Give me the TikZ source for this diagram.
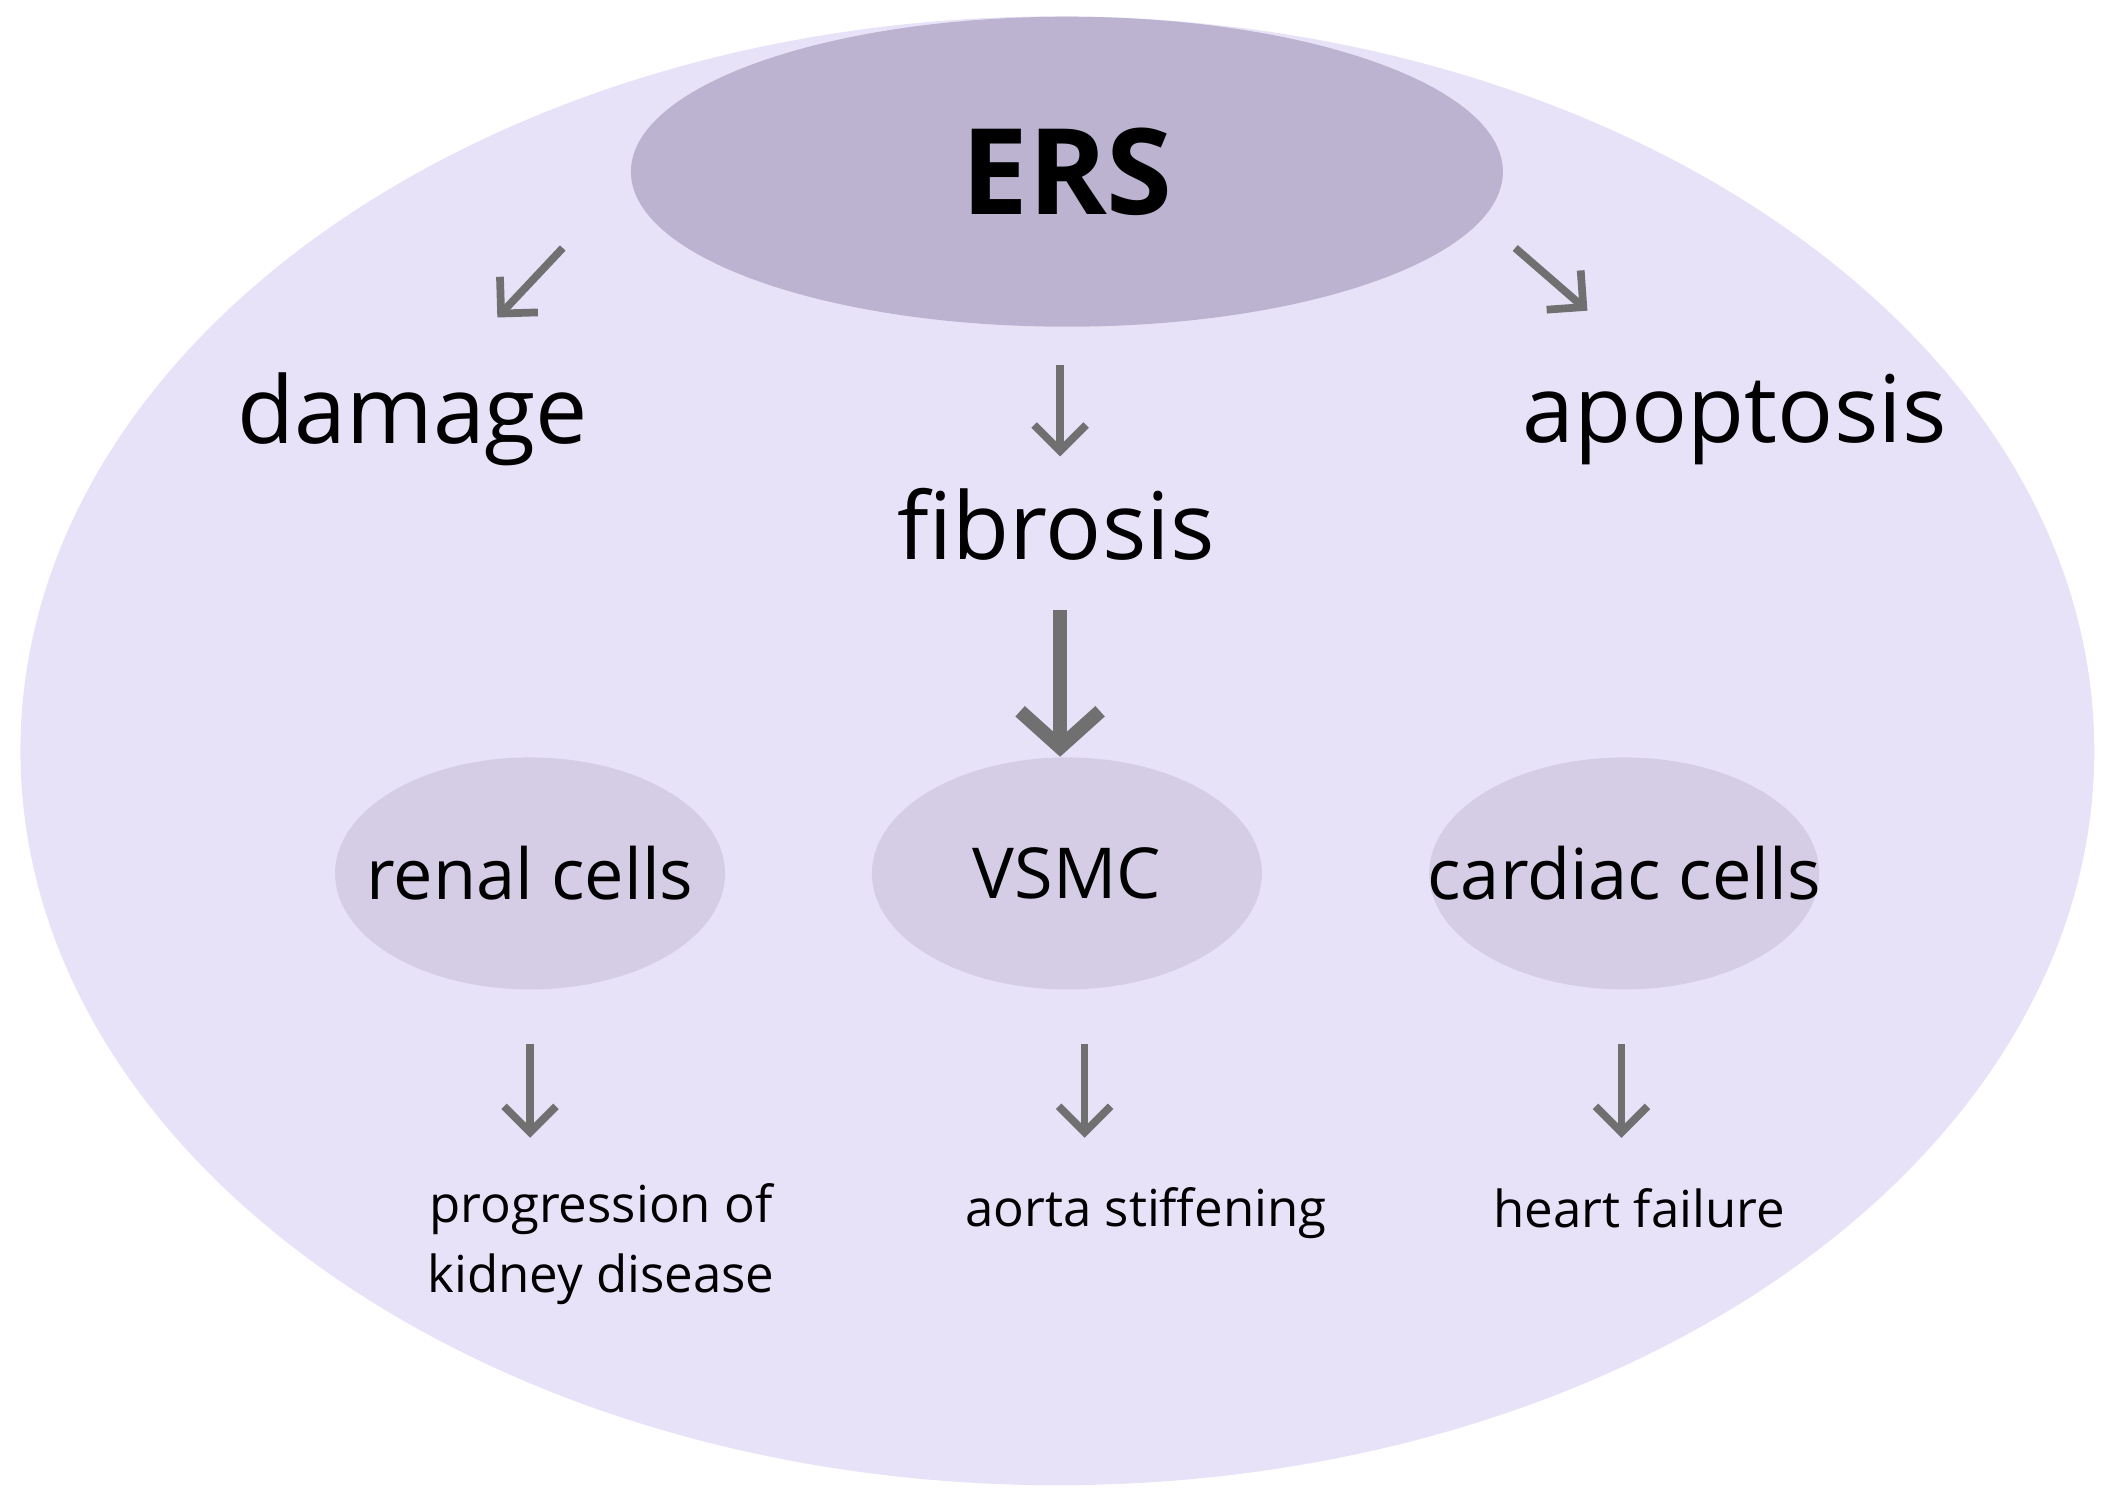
\documentclass[tikz,border=0pt]{standalone}
\usepackage{fontspec}
\setmainfont{Open Sans}
\usetikzlibrary{shapes.geometric, arrows.meta}
\definecolor{outerfill}{HTML}{E8E2F8}
\definecolor{ersfill}{HTML}{BBB3CF}
\definecolor{cellfill}{HTML}{D5CCE6}
\definecolor{arrowgray}{HTML}{707070}
\tikzset{
  cell/.style={ellipse, fill=cellfill, minimum width=3.9cm, minimum height=2.32cm},
  celltext/.style={font=\fontsize{20}{24}\selectfont},
  effect/.style={font=\fontsize{26.5}{31}\selectfont},
  outcome/.style={align=center, font=\fontsize{14.5}{20}\selectfont},
  arr/.style={draw=arrowgray, line width=2.2pt, -{Straight Barb[length=2.6mm, width=5.2mm]}},
  bigarr/.style={draw=arrowgray, line width=4pt, -{Straight Barb[length=3.6mm, width=8mm]}}
}
\begin{document}
\begin{tikzpicture}[x=0.01363cm, y=-0.01363cm]

\useasboundingbox (0,0) rectangle (1550,1093);

%Outer ellipse
\fill[outerfill] (776,551) ellipse [x radius=761, y radius=539];

%ERS
\node[ellipse, fill=ersfill, minimum width=8.72cm, minimum height=3.1cm, font=\fontsize{34}{40}\selectfont\bfseries] (ers) at (783,126) {ERS};

% Effects
\node[effect] (damage) at (303,308) {damage};
\node[effect] (fibrosis) at (775,385) {fibrosis};
\node[effect] (apoptosis) at (1273,308) {apoptosis};

\coordinate (dl1) at (413,182); \coordinate (dl2) at (365,233);
\coordinate (dr1) at (1112,182); \coordinate (dr2) at (1165,228);
\coordinate (fb1) at (778,268); \coordinate (fb2) at (778,335);
\draw[arr] (dl1) -- (dl2);
\draw[arr] (dr1) -- (dr2);
\draw[arr] (fb1) -- (fb2);

% Cells
\node[cell] (renal) at (389,641) {};
\node[cell] (vsmc) at (783,641) {};
\node[cell] (cardiac) at (1192,641) {};
\node[celltext] at (renal) {renal cells};
\node[celltext] at (vsmc) {VSMC};
\node[celltext] at (cardiac) {cardiac cells};
\coordinate (vt) at (778,448);
\draw[bigarr] (vt) -- (vt |- vsmc.north);

% Outcomes
\node[outcome] (kidney) at (441,913) {progression of\\kidney disease};
\node[outcome] (aorta) at (841,890) {aorta stiffening};
\node[outcome] (heart) at (1203,887) {heart failure};

\foreach \x/\name in {389/r, 796/v, 1190/c}{
  \coordinate (\name1) at (\x,766); \coordinate (\name2) at (\x,835);
  \draw[arr] (\name1) -- (\name2);
}

\end{tikzpicture}
\end{document}
